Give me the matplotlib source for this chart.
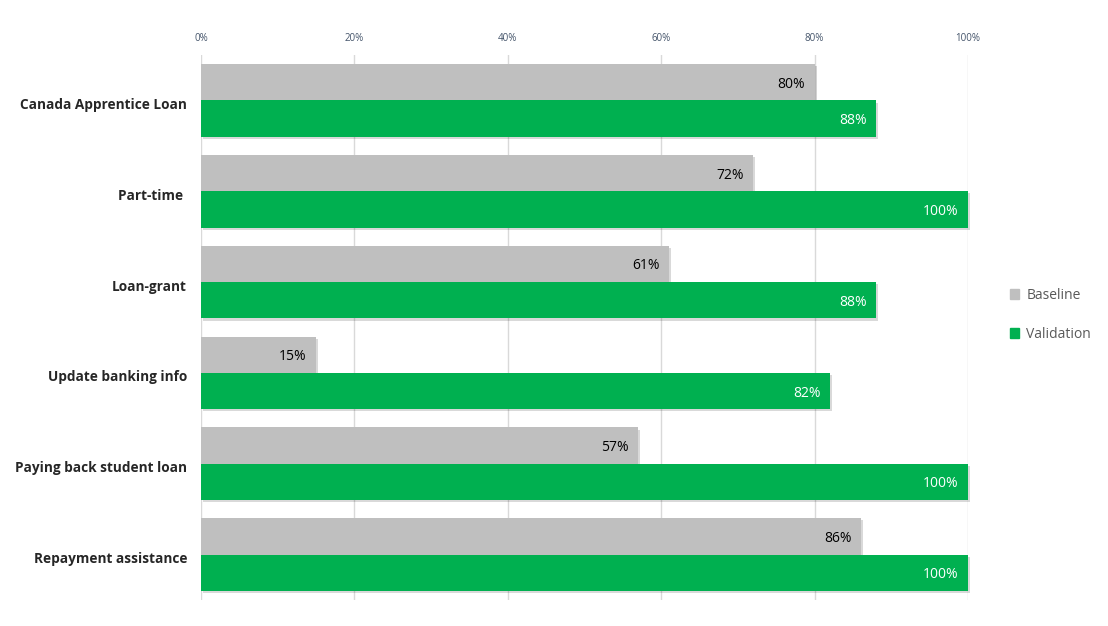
import matplotlib.pyplot as plt
import matplotlib.patheffects as pe
import matplotlib.transforms as mtrans
from matplotlib.patches import Patch
import numpy as np

categories = ["Canada Apprentice Loan", "Part-time ", "Loan-grant", "Update banking info",
              "Paying back student loan", "Repayment assistance"]
baseline = [80, 72, 61, 15, 57, 86]
validation = [88, 100, 88, 82, 100, 100]
ticks = [0, 20, 40, 60, 80, 100]

gray = "#BFBFBF"
green = "#00B050"
plt.rcParams['font.family'] = ['Open Sans', 'DejaVu Sans']

fig = plt.figure(figsize=(11.08, 6.26), dpi=100)
ax = fig.add_axes([0.1814, 0.0415, 0.6922, 0.8705])

y = np.arange(len(categories))
h = 0.4
shadow = [pe.SimplePatchShadow(offset=(1.5, -1.5), shadow_rgbFace="#000000", alpha=0.15), pe.Normal()]

b1 = ax.barh(y - h / 2, baseline, height=h, color=gray, zorder=3)
b2 = ax.barh(y + h / 2, validation, height=h, color=green, zorder=3)
for bars in (b1, b2):
    for r in bars:
        r.set_path_effects(shadow)
        r.set_clip_on(False)

# nudge texts down a couple of pixels like the original
down = mtrans.ScaledTranslation(0, -2 / 100, fig.dpi_scale_trans)
for i in range(len(categories)):
    ax.text(baseline[i] - 1.2, y[i] - h / 2, f"{baseline[i]}%", ha="right", va="center",
            fontsize=10, color="#000000", zorder=4, transform=ax.transData + down)
    ax.text(validation[i] - 1.2, y[i] + h / 2, f"{validation[i]}%", ha="right", va="center",
            fontsize=10, color="white", zorder=4, transform=ax.transData + down)

ax.set_xlim(0, 100)
ax.set_ylim(len(categories) - 0.5, -0.5)
ax.set_xticks(ticks)
ax.set_xticklabels([f"{t}%" for t in ticks])
ax.xaxis.tick_top()
ax.tick_params(axis="x", length=0, labelsize=7, labelcolor="#44546A", pad=8)
ax.set_yticks(y)
ax.set_yticklabels(categories, fontsize=9.8, fontweight="bold", color="#262626")
ax.tick_params(axis="y", length=0, pad=10)
down3 = mtrans.ScaledTranslation(0, -3 / 100, fig.dpi_scale_trans)
for lbl in ax.get_yticklabels():
    lbl.set_transform(lbl.get_transform() + down3)
ax.grid(axis="x", color="#D9D9D9", linewidth=1, zorder=0)
for s in ax.spines.values():
    s.set_visible(False)

handles = [Patch(color=gray, label="Baseline"), Patch(color=green, label="Validation")]
fig.legend(handles=handles, loc="center left", bbox_to_anchor=(0.9, 0.497), frameon=False,
           fontsize=10, handlelength=0.7, handleheight=0.7, labelspacing=1.75, handletextpad=0.5,
           labelcolor="#595959")

fig.savefig("out.png", dpi=100)
